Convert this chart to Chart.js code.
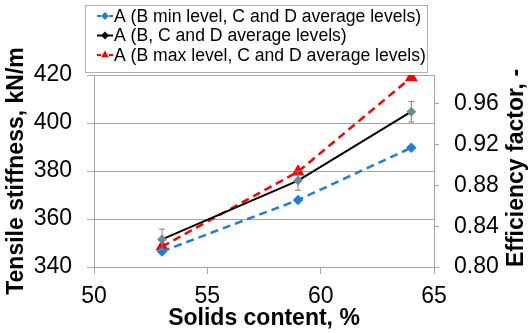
<!DOCTYPE html>
<html>
<head>
<meta charset="utf-8">
<script src="https://cdn.jsdelivr.net/npm/chart.js@4/dist/chart.umd.min.js"></script>
<style>
  html, body { margin: 0; padding: 0; background: #fff; }
  #wrap { width: 529px; height: 333px; position: relative; }
</style>
</head>
<body>
<div id="wrap"><canvas id="chart"></canvas></div>
<script>
// Data
const solids = [53, 59, 64];
const minLevel = [346.5, 367.9, 389.7];
const avgLevel = [351.5, 376.0, 404.7];
const maxLevel = [348.5, 379.7, 419.0];
const avgError = [4.3, 4.0, 4.3];
const seriesLabels = [
    'A (B min level, C and D average levels)',
    'A (B, C and D average levels)',
    'A (B max level, C and D average levels)'
];
const xTicks = [50, 55, 60, 65];
const effTicks = [0.80, 0.84, 0.88, 0.92, 0.96];
const EFF_DIVISOR = 425; // efficiency = stiffness / 425
const effTitle = 'Efficiency factor, -';

const FONT = '"Liberation Sans", Arial, sans-serif';
const GRID = '#a6a6a6';

function points(values) {
    return solids.map((x, i) => ({ x: x, y: values[i] }));
}

// Error bars on the average series
const errorBars = {
    id: 'errorBars',
    afterDatasetsDraw(chart) {
        const ctx = chart.ctx;
        const xs = chart.scales.x, ys = chart.scales.y;
        ctx.save();
        ctx.strokeStyle = '#7f7f7f';
        ctx.lineWidth = 1;
        solids.forEach((x, i) => {
            const px = xs.getPixelForValue(x);
            const top = ys.getPixelForValue(avgLevel[i] + avgError[i]);
            const bot = ys.getPixelForValue(avgLevel[i] - avgError[i]);
            ctx.beginPath();
            ctx.moveTo(px, top); ctx.lineTo(px, bot);
            ctx.moveTo(px - 3, top); ctx.lineTo(px + 3, top);
            ctx.moveTo(px - 3, bot); ctx.lineTo(px + 3, bot);
            ctx.stroke();
        });
        ctx.restore();
    }
};

// Right axis title, reading bottom to top like the left one
const rightTitle = {
    id: 'rightTitle',
    afterDraw(chart) {
        const ctx = chart.ctx;
        ctx.save();
        ctx.translate(517, 168);
        ctx.rotate(-Math.PI / 2);
        ctx.font = 'bold 23px ' + FONT;
        ctx.fillStyle = '#000';
        ctx.textAlign = 'center';
        ctx.textBaseline = 'middle';
        ctx.fillText(effTitle, 0, 0);
        ctx.restore();
    }
};

// Boxed legend at the top
const boxLegend = {
    id: 'boxLegend',
    afterDraw(chart) {
        const ctx = chart.ctx;
        const box = { x: 85.5, y: 5.5, w: 342, h: 67 };
        ctx.save();
        ctx.fillStyle = '#fff';
        ctx.fillRect(box.x, box.y, box.w, box.h);
        ctx.strokeStyle = '#b0b0b0';
        ctx.lineWidth = 1;
        ctx.strokeRect(box.x, box.y, box.w, box.h);
        const rows = [16, 35.5, 55];
        chart.data.datasets.forEach((ds, i) => {
            const y = rows[i];
            ctx.strokeStyle = ds.borderColor;
            ctx.lineWidth = 2;
            ctx.setLineDash(ds.borderDash && ds.borderDash.length ? [4, 2] : []);
            ctx.beginPath();
            ctx.moveTo(97, y); ctx.lineTo(113, y);
            ctx.stroke();
            ctx.setLineDash([]);
            ctx.fillStyle = ds.legendMarker;
            ctx.strokeStyle = ds.legendMarker;
            Chart.helpers.drawPoint(ctx, {
                pointStyle: ds.pointStyle,
                radius: 2.5,
                borderWidth: 1
            }, 105, y);
            ctx.fillStyle = '#000';
            ctx.font = '17.6px ' + FONT;
            ctx.textAlign = 'left';
            ctx.textBaseline = 'middle';
            ctx.fillText(ds.label, 114, y + 1);
        });
        ctx.restore();
    }
};

const ctx = document.getElementById('chart').getContext('2d');
new Chart(ctx, {
    type: 'line',
    data: {
        datasets: [
            {
                label: seriesLabels[0],
                data: points(minLevel),
                borderColor: '#1e7fd8',
                backgroundColor: '#1e7fd8',
                legendMarker: '#1e7fd8',
                borderWidth: 2.5,
                borderDash: [8, 5],
                pointStyle: 'rectRot',
                pointRadius: 3.5,
                yAxisID: 'y'
            },
            {
                label: seriesLabels[1],
                data: points(avgLevel),
                borderColor: '#000000',
                backgroundColor: '#6e8c9c',
                legendMarker: '#000000',
                borderWidth: 2,
                borderDash: [],
                pointStyle: 'rectRot',
                pointRadius: 3.5,
                pointBorderColor: '#6e8c9c',
                yAxisID: 'y'
            },
            {
                label: seriesLabels[2],
                data: points(maxLevel),
                borderColor: '#ff0000',
                backgroundColor: '#ff0000',
                legendMarker: '#ff0000',
                borderWidth: 2.5,
                borderDash: [8, 5],
                pointStyle: 'triangle',
                pointRadius: 5,
                yAxisID: 'y'
            }
        ]
    },
    options: {
        responsive: true,
        maintainAspectRatio: false,
        animation: false,
        layout: { padding: { top: 75, left: 0, right: 0, bottom: 0 } },
        plugins: {
            legend: { display: false },
            tooltip: { enabled: false }
        },
        scales: {
            x: {
                type: 'linear',
                min: 50,
                max: 65,
                afterFit(scale) { scale.height = 66; },
                afterBuildTicks(scale) { scale.ticks = xTicks.map(v => ({ value: v })); },
                ticks: {
                    font: { family: FONT, size: 23 },
                    color: '#000',
                    padding: 9,
                    maxRotation: 0
                },
                grid: { drawOnChartArea: false, color: GRID, tickLength: 7 },
                border: { color: GRID, width: 1 },
                title: {
                    display: true,
                    text: 'Solids content, %',
                    font: { family: FONT, size: 23, weight: 'bold', lineHeight: 1 },
                    color: '#000',
                    padding: { top: 0, bottom: 2.5 }
                }
            },
            y: {
                position: 'left',
                min: 340,
                max: 420,
                afterFit(scale) { scale.width = 94; },
                ticks: {
                    stepSize: 20,
                    font: { family: FONT, size: 23 },
                    color: '#000',
                    padding: 15
                },
                grid: { color: GRID, tickLength: 7 },
                border: { color: GRID, width: 1 },
                title: {
                    display: true,
                    text: 'Tensile stiffness, kN/m',
                    font: { family: FONT, size: 23, weight: 'bold', lineHeight: 1 },
                    color: '#000',
                    padding: { top: 5.5, bottom: 0 }
                }
            },
            y2: {
                position: 'right',
                min: 340 / EFF_DIVISOR,
                max: 420 / EFF_DIVISOR,
                afterFit(scale) { scale.width = 95; },
                afterBuildTicks(scale) { scale.ticks = effTicks.map(v => ({ value: v })); },
                ticks: {
                    font: { family: FONT, size: 23 },
                    color: '#000',
                    padding: 15,
                    callback: v => v.toFixed(2)
                },
                grid: { drawOnChartArea: false, color: GRID, tickLength: 5 },
                border: { color: GRID, width: 1 },
                title: { display: false }
            }
        }
    },
    plugins: [errorBars, rightTitle, boxLegend]
});
</script>
</body>
</html>
